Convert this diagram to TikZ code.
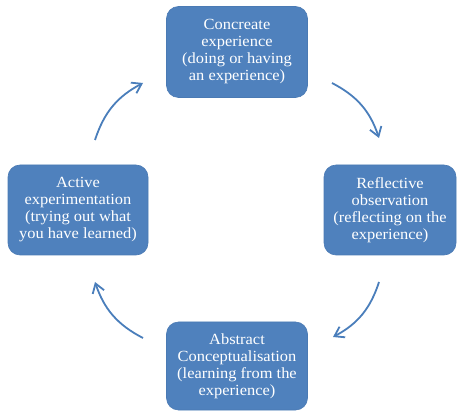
\documentclass[tikz,border=0pt]{standalone}
\usepackage{fontspec}
\setmainfont{Liberation Serif}[FakeStretch=1.06]
\usetikzlibrary{arrows.meta}
\definecolor{boxblue}{HTML}{4F81BD}
\definecolor{boxedge}{HTML}{4A7AB4}
\definecolor{arrowblue}{HTML}{4A7EBB}
\tikzset{
  stage/.style={rectangle, rounded corners=12pt, fill=boxblue, draw=boxedge, line width=0.6pt,
    text=white, align=center, inner sep=0pt,
    font=\fontsize{15.5pt}{17pt}\selectfont},
  cyclearrow/.style={draw=arrowblue, line width=1.8pt,
    -{Straight Barb[length=9pt,width=12pt,line width=1.8pt]}, bend left=22}
}
\begin{document}
\begin{tikzpicture}[x=1pt,y=1pt]
\useasboundingbox (0,0) rectangle (457,412);
\node[stage, minimum width=141pt, minimum height=91pt] (ce) at (237,360)
  {Concreate\\experience\\(doing or having\\an experience)};
\node[stage, minimum width=132pt, minimum height=90pt] (ro) at (390,202)
  {Reflective\\observation\\(reflecting on the\\experience)};
\node[stage, minimum width=141pt, minimum height=88pt] (ac) at (237,46)
  {Abstract\\Conceptualisation\\(learning from the\\experience)};
\node[stage, minimum width=140pt, minimum height=90pt] (ae) at (78,202)
  {Active\\experimentation\\(trying out what\\you have learned)};
\coordinate (a1s) at (95,272);
\coordinate (a1e) at (143,329);
\coordinate (a2s) at (332,329);
\coordinate (a2e) at (379,274);
\coordinate (a3s) at (379,130);
\coordinate (a3e) at (333,75);
\coordinate (a4s) at (143,74);
\coordinate (a4e) at (95,130);
\draw[cyclearrow] (a1s) to (a1e);
\draw[cyclearrow] (a2s) to (a2e);
\draw[cyclearrow] (a3s) to (a3e);
\draw[cyclearrow] (a4s) to (a4e);
\end{tikzpicture}
\end{document}
